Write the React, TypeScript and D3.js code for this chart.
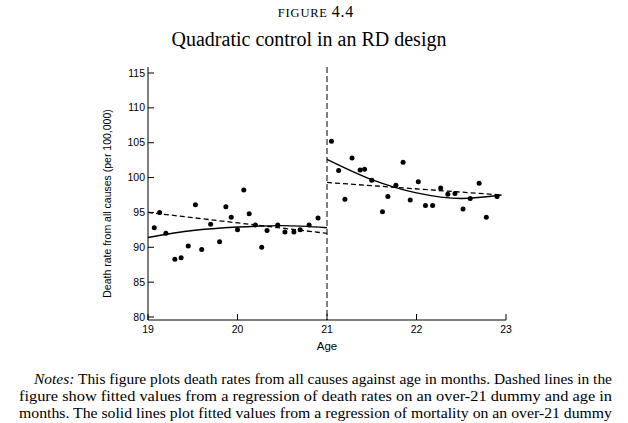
import * as d3 from "d3";

const leftAge = [19.07, 19.13, 19.2, 19.3, 19.37, 19.45, 19.53, 19.6, 19.7, 19.8, 19.87, 19.93, 20.0, 20.07, 20.13, 20.2, 20.27, 20.33, 20.45, 20.53, 20.63, 20.7, 20.8, 20.9];
const leftRate = [92.8, 95.0, 92.0, 88.3, 88.5, 90.2, 96.1, 89.7, 93.3, 90.8, 95.8, 94.3, 92.5, 98.2, 94.8, 93.2, 90.0, 92.4, 93.2, 92.2, 92.2, 92.5, 93.2, 94.2];
const rightAge = [21.05, 21.13, 21.2, 21.28, 21.37, 21.42, 21.5, 21.62, 21.68, 21.77, 21.85, 21.93, 22.02, 22.1, 22.18, 22.27, 22.35, 22.43, 22.52, 22.6, 22.7, 22.78, 22.9];
const rightRate = [105.2, 101.0, 96.9, 102.8, 101.1, 101.2, 99.6, 95.1, 97.3, 98.9, 102.2, 96.8, 99.4, 96.0, 96.0, 98.5, 97.6, 97.7, 95.5, 97.0, 99.2, 94.3, 97.3];

const linLeftAge = [19.0, 21.0];
const linLeftFit = [95.0, 92.0];
const linRightAge = [21.0, 22.95];
const linRightFit = [99.3, 97.5];
const quadLeftAge = [19.0, 19.5, 20.0, 20.5, 21.0];
const quadLeftFit = [91.4, 92.4, 92.9, 93.1, 92.8];
const quadRightAge = [21.0, 21.5, 22.0, 22.5, 22.95];
const quadRightFit = [102.6, 99.7, 97.8, 97.0, 97.5];

const xTicks = [19, 20, 21, 22, 23];
const yTicks = [80, 85, 90, 95, 100, 105, 110, 115];

export default function App() {
  const left = 148, right = 506, top = 67, bottom = 320;
  const x = d3.scaleLinear().domain([19, 23]).range([left, right]);
  const y = d3.scaleLinear().domain([80, 115]).range([317, 73]);
  const line = (a: number[], v: number[]) =>
    d3.line<number>().x((_, i) => x(a[i])).y((d) => y(d)).curve(d3.curveMonotoneX)(v) || "";
  const dots = [
    ...leftAge.map((a, i) => [a, leftRate[i]]),
    ...rightAge.map((a, i) => [a, rightRate[i]]),
  ];
  const sans = "Liberation Sans, Arial, sans-serif";
  const serif = "Liberation Serif, Times New Roman, serif";
  return (
    <svg width={628} height={423} style={{ position: "absolute", left: 0, top: 0 }}>
      <rect width={628} height={423} fill="#fff" />
      <text x={316} y={17} textAnchor="middle" fontFamily={serif} fontSize={16} letterSpacing={0.8}>
        <tspan fontSize={12.5}>FIGURE </tspan>4.4
      </text>
      <text x={309} y={46} textAnchor="middle" fontFamily={serif} fontSize={20}>
        Quadratic control in an RD design
      </text>
      <line x1={left} x2={left} y1={top} y2={bottom} stroke="#000" />
      <line x1={left} x2={right} y1={bottom} y2={bottom} stroke="#000" />
      {yTicks.map((t) => (
        <g key={t}>
          <line x1={left} x2={left + 6} y1={y(t)} y2={y(t)} stroke="#000" />
          <text x={left - 3} y={y(t) + 3.5} textAnchor="end" fontFamily={sans} fontSize={10.5}>{t}</text>
        </g>
      ))}
      {xTicks.map((t) => (
        <g key={t}>
          <line x1={x(t)} x2={x(t)} y1={bottom} y2={bottom - 6} stroke="#000" />
          <text x={x(t)} y={bottom + 13} textAnchor="middle" fontFamily={sans} fontSize={10.5}>{t}</text>
        </g>
      ))}
      <text x={327} y={350} textAnchor="middle" fontFamily={sans} fontSize={11.5}>Age</text>
      <text transform={`translate(111,${(top + bottom) / 2 + 10}) rotate(-90)`} textAnchor="middle" fontFamily={sans} fontSize={10.5}>
        Death rate from all causes (per 100,000)
      </text>
      <line x1={x(21)} x2={x(21)} y1={top} y2={bottom} stroke="#000" strokeDasharray="6,3" />
      {dots.map(([a, v], i) => (
        <circle key={i} cx={x(a)} cy={y(v)} r={2.5} fill="#000" />
      ))}
      <path d={line(linLeftAge, linLeftFit)} fill="none" stroke="#000" strokeWidth={1.3} strokeDasharray="5,3" />
      <path d={line(linRightAge, linRightFit)} fill="none" stroke="#000" strokeWidth={1.3} strokeDasharray="5,3" />
      <path d={line(quadLeftAge, quadLeftFit)} fill="none" stroke="#000" strokeWidth={1.4} />
      <path d={line(quadRightAge, quadRightFit)} fill="none" stroke="#000" strokeWidth={1.4} />
      <g fontFamily={serif} fontSize={14}>
        <text x={34} y={384} textLength={578} lengthAdjust="spacingAndGlyphs"><tspan fontStyle="italic">Notes:</tspan> This figure plots death rates from all causes against age in months. Dashed lines in the</text>
        <text x={19} y={401} textLength={593} lengthAdjust="spacingAndGlyphs">figure show fitted values from a regression of death rates on an over-21 dummy and age in</text>
        <text x={19} y={418} textLength={593} lengthAdjust="spacingAndGlyphs">months. The solid lines plot fitted values from a regression of mortality on an over-21 dummy</text>
      </g>
    </svg>
  );
}
